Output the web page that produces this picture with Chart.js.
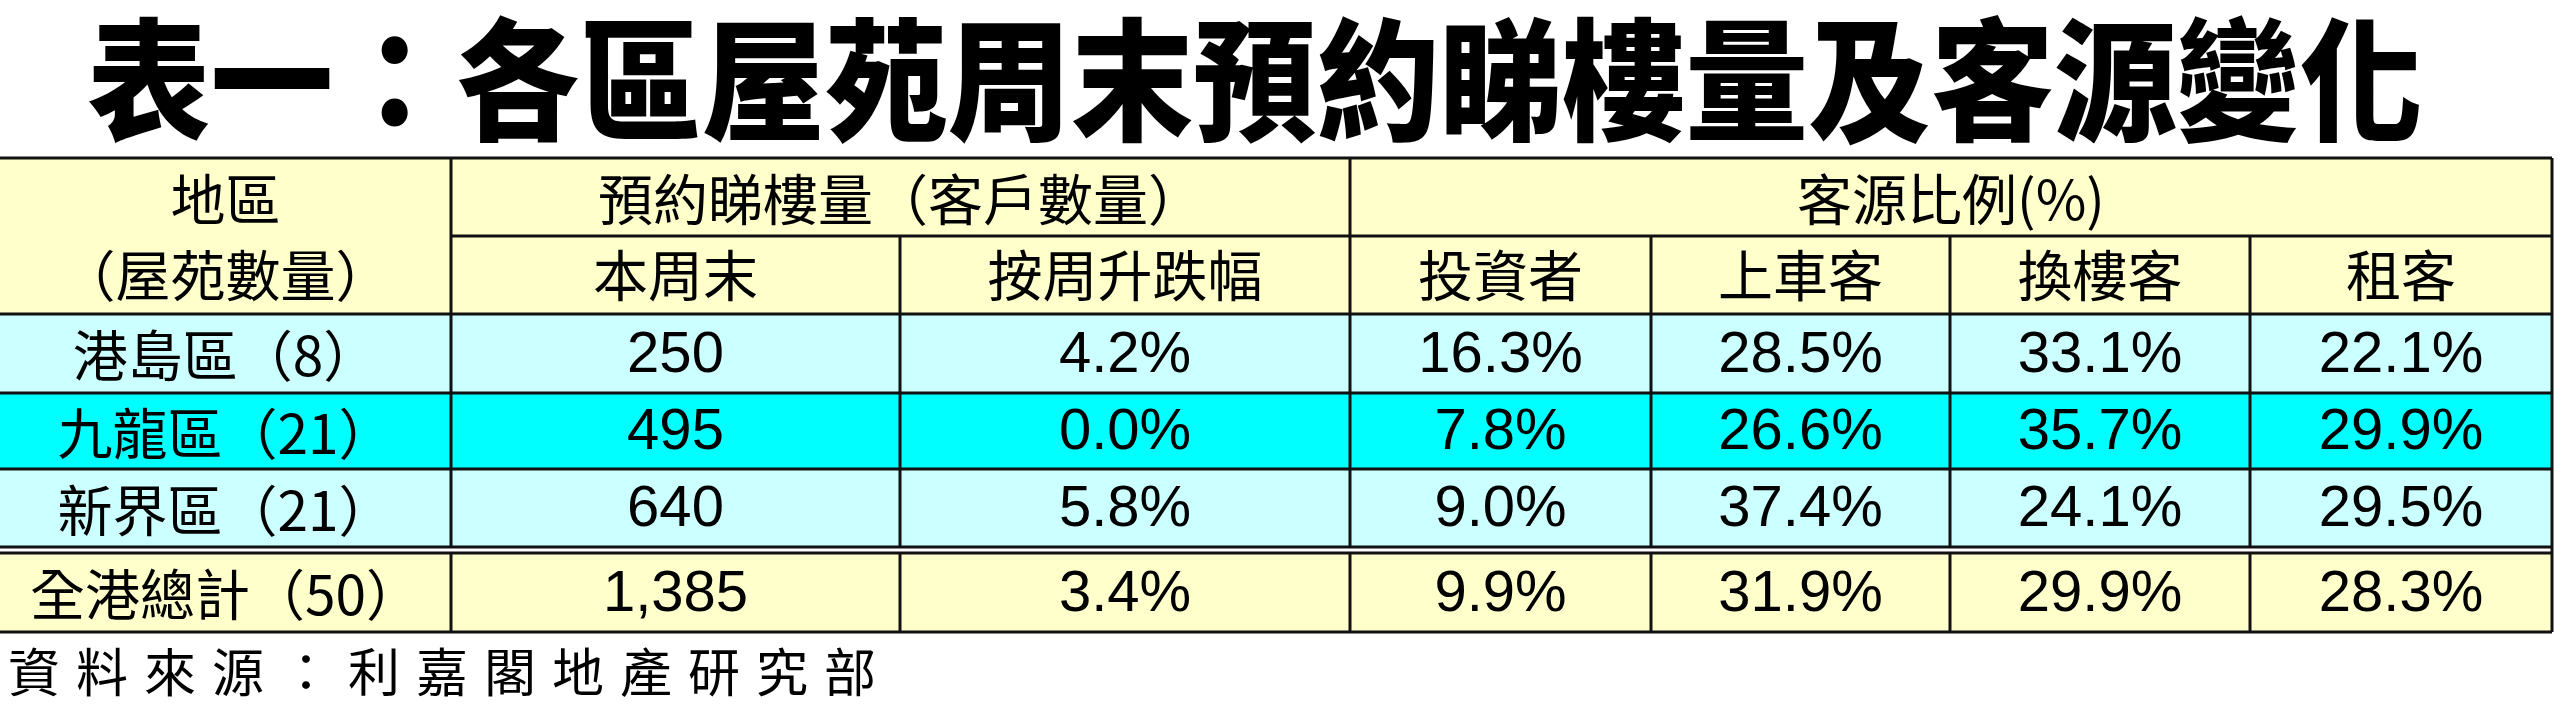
<!DOCTYPE html>
<html lang="zh-Hant">
<head>
  <meta charset="UTF-8">
  <title>表一：各區屋苑周末預約睇樓量及客源變化</title>
  <script src="https://cdn.jsdelivr.net/npm/chart.js"></script>
  <style>
    body { margin: 0; background: #fff; }
    #wrap { width: 2560px; height: 725px; }
  </style>
</head>
<body>
  <div id="wrap"><canvas id="tbl"></canvas></div>
  <script>
    // data
    const title = "表一：各區屋苑周末預約睇樓量及客源變化";
    const districts = ["港島區（8）", "九龍區（21）", "新界區（21）", "全港總計（50）"];
    const viewings = ["250", "495", "640", "1,385"];
    const weekChange = ["4.2%", "0.0%", "5.8%", "3.4%"];
    const investors = ["16.3%", "7.8%", "9.0%", "9.9%"];
    const firstTime = ["28.5%", "26.6%", "37.4%", "31.9%"];
    const upgraders = ["33.1%", "35.7%", "24.1%", "29.9%"];
    const tenants = ["22.1%", "29.9%", "29.5%", "28.3%"];
    const subHeads = ["本周末", "按周升跌幅", "投資者", "上車客", "換樓客", "租客"];
    const source = "資料來源：利嘉閣地產研究部";

    // layout (scale units = pixels of the reference)
    const colX = [0, 451, 900, 1350, 1651, 1950, 2250, 2552];
    const rowY = [158, 236, 314, 393, 469, 547, 553, 632];
    const rowFill = ["#FFFFCC", "#FFFFCC", "#CCFFFF", "#00FFFF", "#CCFFFF", null, "#FFFFCC"];
    const cjk = '"Noto Sans CJK TC", sans-serif';
    const latin = '"Liberation Sans", Arial, sans-serif';

    const tablePlugin = {
      id: "table",
      afterDraw(chart) {
        const { ctx, scales: { x, y } } = chart;
        const X = v => x.getPixelForValue(v);
        const Y = v => y.getPixelForValue(v);
        ctx.save();

        // title
        ctx.fillStyle = "#000";
        ctx.textAlign = "center";
        ctx.textBaseline = "middle";
        ctx.font = "900 132px " + cjk;
        ctx.fillText(title, X(1255), Y(80), X(2335) - X(0));

        // row backgrounds
        for (let r = 0; r < rowFill.length; r++) {
          if (!rowFill[r]) continue;
          ctx.fillStyle = rowFill[r];
          ctx.fillRect(X(colX[0]), Y(rowY[r]), X(colX[7]) - X(colX[0]), Y(rowY[r + 1]) - Y(rowY[r]));
        }

        // lines
        ctx.strokeStyle = "#111";
        ctx.lineWidth = 3;
        const hl = (yy, x0, x1) => { ctx.beginPath(); ctx.moveTo(X(x0), Y(yy)); ctx.lineTo(X(x1), Y(yy)); ctx.stroke(); };
        const vl = (xx, y0, y1) => { ctx.beginPath(); ctx.moveTo(X(xx), Y(y0)); ctx.lineTo(X(xx), Y(y1)); ctx.stroke(); };
        hl(rowY[0], 0, colX[7]);
        hl(rowY[1], colX[1], colX[7]);
        for (let r = 2; r < rowY.length; r++) hl(rowY[r], 0, colX[7]);
        vl(colX[7], rowY[0], rowY[7]);
        vl(colX[1], rowY[0], rowY[5]); vl(colX[1], rowY[6], rowY[7]);
        vl(colX[3], rowY[0], rowY[5]); vl(colX[3], rowY[6], rowY[7]);
        for (const c of [2, 4, 5, 6]) { vl(colX[c], rowY[1], rowY[5]); vl(colX[c], rowY[6], rowY[7]); }

        const mid = (a, b) => (a + b) / 2;
        const txt = (s, cx, cy, font) => {
          ctx.font = font;
          ctx.fillStyle = "#000";
          ctx.fillText(s, X(cx), Y(cy));
        };
        const cjkF = "55px " + cjk;
        const numF = "58px " + latin;

        // headers
        txt("地區", mid(colX[0], colX[1]), mid(rowY[0], rowY[1]) + 2, cjkF);
        txt("（屋苑數量）", mid(colX[0], colX[1]), mid(rowY[1], rowY[2]), cjkF);
        txt("預約睇樓量（客戶數量）", mid(colX[1], colX[3]), mid(rowY[0], rowY[1]) + 2, cjkF);
        txt("客源比例(%)", mid(colX[3], colX[7]), mid(rowY[0], rowY[1]) + 2, cjkF);
        subHeads.forEach((h, i) => txt(h, mid(colX[i + 1], colX[i + 2]), mid(rowY[1], rowY[2]), cjkF));

        // body
        const cols = [districts, viewings, weekChange, investors, firstTime, upgraders, tenants];
        const bodyRows = [2, 3, 4, 6];
        bodyRows.forEach((r, i) => {
          const cy = mid(rowY[r], rowY[r + 1]) + 2;
          cols.forEach((col, c) => txt(col[i], mid(colX[c], colX[c + 1]), cy, c === 0 ? cjkF : numF));
        });

        // source
        ctx.textAlign = "left";
        ctx.font = "52px " + cjk;
        ctx.fillStyle = "#000";
        let sx = X(8);
        for (const ch of source) { ctx.fillText(ch, sx, Y(672)); sx += 68; }
        ctx.restore();
      }
    };

    new Chart(document.getElementById("tbl"), {
      type: "scatter",
      data: { datasets: [{ data: [] }] },
      options: {
        responsive: true,
        maintainAspectRatio: false,
        animation: false,
        layout: { padding: 0 },
        plugins: { legend: { display: false }, tooltip: { enabled: false } },
        scales: {
          x: { type: "linear", min: 0, max: 2560, display: false },
          y: { type: "linear", min: 0, max: 725, reverse: true, display: false }
        }
      },
      plugins: [tablePlugin]
    });
  </script>
</body>
</html>
